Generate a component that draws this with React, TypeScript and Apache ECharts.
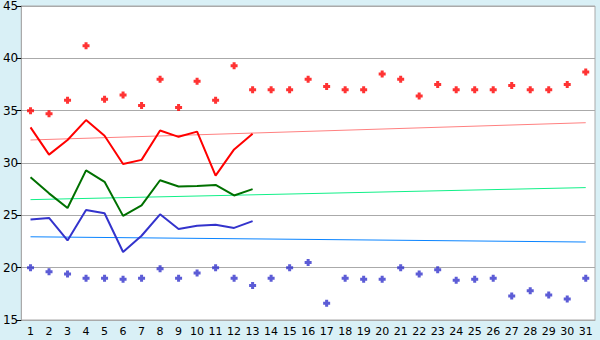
import React, { useEffect, useRef } from "react";
import * as echarts from "echarts";

const days = Array.from({ length: 31 }, (_, i) => String(i + 1));

const maxPoints = [35.0, 34.7, 36.0, 41.2, 36.1, 36.5, 35.5, 38.0, 35.3, 37.8, 36.0, 39.3, 37.0, 37.0, 37.0, 38.0, 37.3, 37.0, 37.0, 38.5, 38.0, 36.4, 37.5, 37.0, 37.0, 37.0, 37.4, 37.0, 37.0, 37.5, 38.7];
const minPoints = [20.0, 19.6, 19.4, 19.0, 19.0, 18.9, 19.0, 19.9, 19.0, 19.5, 20.0, 19.0, 18.3, 19.0, 20.0, 20.5, 16.6, 19.0, 18.9, 18.9, 20.0, 19.4, 19.8, 18.8, 18.9, 19.0, 17.3, 17.8, 17.4, 17.0, 19.0];
const maxLine = [33.4, 30.8, 32.2, 34.1, 32.6, 29.9, 30.3, 33.1, 32.5, 33.0, 28.8, 31.3, 32.8];
const avgLine = [28.65, 27.1, 25.7, 29.3, 28.2, 24.95, 25.95, 28.35, 27.75, 27.8, 27.9, 26.9, 27.5];
const minLine = [24.6, 24.75, 22.6, 25.5, 25.2, 21.5, 23.05, 25.1, 23.7, 24.0, 24.1, 23.8, 24.45];
const maxTrend = [32.2, 33.85];
const avgTrend = [26.5, 27.65];
const minTrend = [22.95, 22.45];

const trendData = (ends: number[]) =>
  days.map((_, i) => (i === 0 ? ends[0] : i === days.length - 1 ? ends[1] : null));

const plus = "path://M2,0H5V2H7V5H5V7H2V5H0V2H2Z";

export default function App() {
  const ref = useRef<HTMLDivElement>(null);
  useEffect(() => {
    document.body.style.margin = "0";
    const chart = echarts.init(ref.current!, null, { renderer: "svg" });
    const font = "DejaVu Sans";
    chart.setOption({
      animation: false,
      backgroundColor: "#d9f0f6",
      grid: { left: 20, right: 5, top: 5, bottom: 20, show: true, backgroundColor: "#ffffff", borderColor: "#aaaaaa", borderWidth: 1 },
      xAxis: {
        type: "category",
        data: days,
        boundaryGap: true,
        axisLine: { lineStyle: { color: "#aaaaaa" } },
        axisTick: { alignWithLabel: true, length: 5, lineStyle: { color: "#000000" } },
        axisLabel: { color: "#000000", fontFamily: font, fontSize: 11, margin: 6, interval: 0 },
        splitLine: { show: false },
      },
      yAxis: {
        type: "value",
        min: 15,
        max: 45,
        interval: 5,
        axisLine: { show: true, lineStyle: { color: "#aaaaaa" } },
        axisTick: { show: true, length: 5, lineStyle: { color: "#000000" } },
        axisLabel: { color: "#000000", fontFamily: font, fontSize: 12, margin: 3 },
        splitLine: { lineStyle: { color: "#aaaaaa" } },
      },
      series: [
        { type: "line", data: trendData(maxTrend), connectNulls: true, showSymbol: false, symbol: "none", lineStyle: { color: "#ff8080", width: 1 } },
        { type: "line", data: trendData(avgTrend), connectNulls: true, showSymbol: false, symbol: "none", lineStyle: { color: "#11f088", width: 1 } },
        { type: "line", data: trendData(minTrend), connectNulls: true, showSymbol: false, symbol: "none", lineStyle: { color: "#0a84ff", width: 1 } },
        { type: "line", data: maxLine, symbol: "none", lineStyle: { color: "#ff0000", width: 2 } },
        { type: "line", data: avgLine, symbol: "none", lineStyle: { color: "#007000", width: 2 } },
        { type: "line", data: minLine, symbol: "none", lineStyle: { color: "#3333cc", width: 2 } },
        { type: "scatter", data: maxPoints, symbol: plus, symbolSize: 7, itemStyle: { color: "#ff0000" } },
        { type: "scatter", data: minPoints, symbol: plus, symbolSize: 7, itemStyle: { color: "#3333cc" } },
      ],
    });
    return () => chart.dispose();
  }, []);
  return <div ref={ref} style={{ width: 600, height: 340 }} />;
}
